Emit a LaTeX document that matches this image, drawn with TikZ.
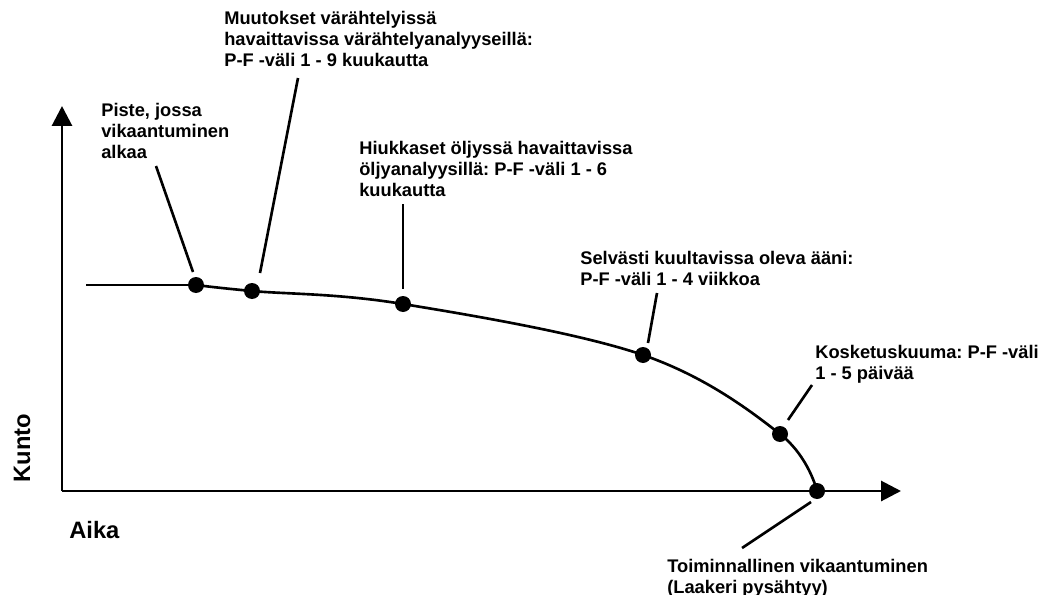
\documentclass[tikz,border=0pt]{standalone}
\usepackage{fontspec}
\setmainfont{Liberation Sans}
\usetikzlibrary{arrows.meta}
\frenchspacing

\begin{document}
\begin{tikzpicture}[x=0.02cm,y=-0.02cm,line width=1.5pt,
  ball/.style={circle,fill,inner sep=0pt,minimum size=0.32cm},
  note/.style={anchor=north west,inner sep=0pt,align=left,
    font=\bfseries\fontsize{10.4}{12}\selectfont},
  axis/.style={line width=1.7pt,-{Triangle[length=0.4cm,width=0.4cm]}}]
\useasboundingbox (0,0) rectangle (1045,595);
% axes
\coordinate (O) at (62,491);
\coordinate (ytop) at (62,106);
\coordinate (xend) at (901,491);
\draw[axis] (O) -- (ytop);
\draw[axis] (O) -- (xend);
\node[rotate=90,font=\bfseries\fontsize{13.5}{16}\selectfont,inner sep=0pt] (kunto) at (22,448) {Kunto};
\node[anchor=north west,inner sep=0pt,font=\bfseries\fontsize{13.5}{16}\selectfont] (aika) at (68,520) {Aika};
% curve
\coordinate (c0) at (86,285);
\coordinate (p1) at (196,285);
\coordinate (p2) at (252,291);
\coordinate (p3) at (403,304);
\coordinate (p4) at (643,355);
\coordinate (p5) at (780,434);
\coordinate (p6) at (817,491);
\draw (c0) -- (p1);
\draw plot[smooth,tension=0.6] coordinates {(p1) (p2) (p3) (p4) (p5) (p6)};
\foreach \i in {1,...,6} \node[ball] (d\i) at (p\i) {};
% labels
\node[note] (t1) at (100,102) {Piste, jossa\\vikaantuminen\\alkaa};
\node[note] (t2) at (223,10) {Muutokset värähtelyissä\\havaittavissa värähtelyanalyyseillä:\\P-F -väli 1 - 9 kuukautta};
\node[note] (t3) at (358,140) {Hiukkaset öljyssä havaittavissa\\öljyanalyysillä: P-F -väli 1 - 6\\kuukautta};
\node[note] (t4) at (579,250) {Selvästi kuultavissa oleva ääni:\\P-F -väli 1 - 4 viikkoa};
\node[note] (t5) at (814,344) {Kosketuskuuma: P-F -väli\\1 - 5 päivää};
\node[note] (t6) at (666,558) {Toiminnallinen vikaantuminen\\(Laakeri pysähtyy)};
% leader lines
\coordinate (a1) at (156,166); \coordinate (b1) at (193,272);
\coordinate (a2) at (298,78);  \coordinate (b2) at (260,273);
\coordinate (a3) at (403,204); \coordinate (b3) at (403,289);
\coordinate (a4) at (657,293); \coordinate (b4) at (648,343);
\coordinate (a5) at (812,385); \coordinate (b5) at (788,420);
\coordinate (a6) at (811,502); \coordinate (b6) at (742,548);
\foreach \i in {1,...,6} \draw (a\i) -- (b\i);
\end{tikzpicture}
\end{document}
